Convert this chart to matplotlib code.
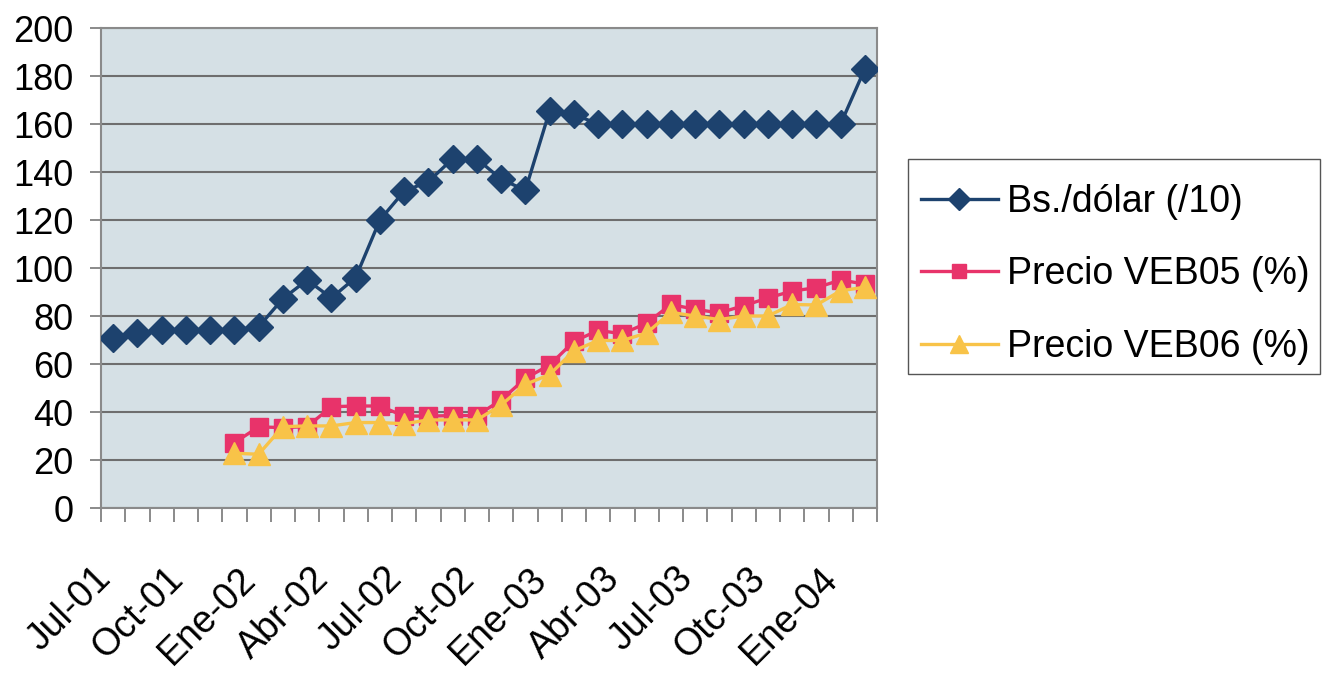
import numpy as np
import matplotlib
matplotlib.use("Agg")
import matplotlib.pyplot as plt
from matplotlib.transforms import ScaledTranslation
from matplotlib.patches import Rectangle

plt.rcParams['font.family'] = ['Liberation Sans', 'DejaVu Sans']

categories = ["Jul-01", "Ago-01", "Sep-01", "Oct-01", "Nov-01", "Dic-01",
              "Ene-02", "Feb-02", "Mar-02", "Abr-02", "May-02", "Jun-02",
              "Jul-02", "Ago-02", "Sep-02", "Oct-02", "Nov-02", "Dic-02",
              "Ene-03", "Feb-03", "Mar-03", "Abr-03", "May-03", "Jun-03",
              "Jul-03", "Ago-03", "Sep-03", "Otc-03", "Nov-03", "Dic-03",
              "Ene-04", "Feb-04"]

bs_dolar = [71, 72.8, 74.2, 74.2, 74.2, 74.2, 75.5, 87.2, 95, 87.5, 96, 120,
            132, 136, 145.5, 145.5, 137, 132.4, 165.5, 164, 160, 160, 160, 160,
            160, 160, 160, 160, 160, 160, 160, 183]

veb05 = [np.nan, np.nan, np.nan, np.nan, np.nan, 27.2, 33.8, 33.5, 33.9, 42.2,
         42.5, 42.5, 38.3, 38.3, 38.5, 38.5, 45, 54, 59.6, 69.4, 74, 72.6, 77,
         84.8, 82.8, 81.3, 84.3, 87.5, 90.4, 91.8, 95, 93.3]

veb06 = [np.nan, np.nan, np.nan, np.nan, np.nan, 22.8, 22.4, 33.9, 34.2, 34.2,
         35.6, 35.6, 35.1, 36.7, 36.7, 36.7, 42.9, 51.5, 55.6, 65.5, 69.8, 69.8,
         72.9, 81.5, 80, 78.5, 80, 80, 84.8, 84.6, 90.5, 92]

series_labels = ["Bs./dólar (/10)", "Precio VEB05 (%)", "Precio VEB06 (%)"]
yticks = [0, 20, 40, 60, 80, 100, 120, 140, 160, 180, 200]

W, H = 1326, 683
fig = plt.figure(figsize=(W / 100, H / 100), dpi=100)
fig.patch.set_facecolor('white')
ax = fig.add_axes([101 / W, 1 - 508 / H, (877 - 101) / W, (508 - 28) / H])
ax.set_facecolor('#D5E0E5')

x = np.arange(len(categories))
blue, pink, yellow = '#1D426E', '#E8336A', '#F8C348'
l1, = ax.plot(x, bs_dolar, color=blue, lw=2.4, marker='D', ms=14, mec=blue, mfc=blue,
              label=series_labels[0], zorder=3)
l2, = ax.plot(x, veb05, color=pink, lw=2.4, marker='s', ms=13, mec=pink, mfc=pink,
              label=series_labels[1], zorder=4)
l3, = ax.plot(x, veb06, color=yellow, lw=2.4, marker='^', ms=16, mec=yellow, mfc=yellow,
              label=series_labels[2], zorder=5)

ax.set_xlim(-0.5, len(categories) - 0.5)
ax.set_ylim(0, 200)
ax.set_yticks(yticks)
ax.yaxis.grid(True, color='#6E6E6E', lw=1.5)
ax.set_axisbelow(True)
for s in ax.spines.values():
    s.set_color('#8A8A8A')
    s.set_linewidth(1.5)

ax.tick_params(axis='y', direction='out', length=8, width=1.2, color='#777777',
               labelsize=26, pad=12)

label_idx = list(range(0, len(categories), 3))
ax.set_xticks(label_idx)
ax.set_xticklabels([categories[i] for i in label_idx], rotation=45, ha='right',
                   va='center', rotation_mode='anchor', fontsize=27)
ax.set_xticks(np.arange(-0.5, len(categories), 1.0), minor=True)
ax.tick_params(axis='x', which='major', length=0, pad=47)
ax.tick_params(axis='x', which='minor', direction='out', length=10, width=1.2,
               color='#777777')
off = ScaledTranslation(-8 / 100, 0, fig.dpi_scale_trans)
for lab in ax.get_xticklabels():
    lab.set_transform(lab.get_transform() + off)

# legend frame drawn as a figure rectangle
fig.patches.append(Rectangle((908 / W, 1 - 374 / H), (1320 - 908) / W, (374 - 159) / H,
                             transform=fig.transFigure, facecolor='white',
                             edgecolor='#555555', lw=1.0, zorder=1))
leg = fig.legend(handles=[l1, l2, l3], labels=series_labels, loc='upper left',
                 bbox_to_anchor=(921 / W, 1 - 184 / H),
                 bbox_transform=fig.transFigure, fontsize=27, frameon=False,
                 borderaxespad=0, borderpad=0, handlelength=2.05,
                 handletextpad=0.25, labelspacing=0.97, markerscale=0.8)
leg.set_zorder(5)

fig.savefig('out.png', dpi=100, facecolor='white')
